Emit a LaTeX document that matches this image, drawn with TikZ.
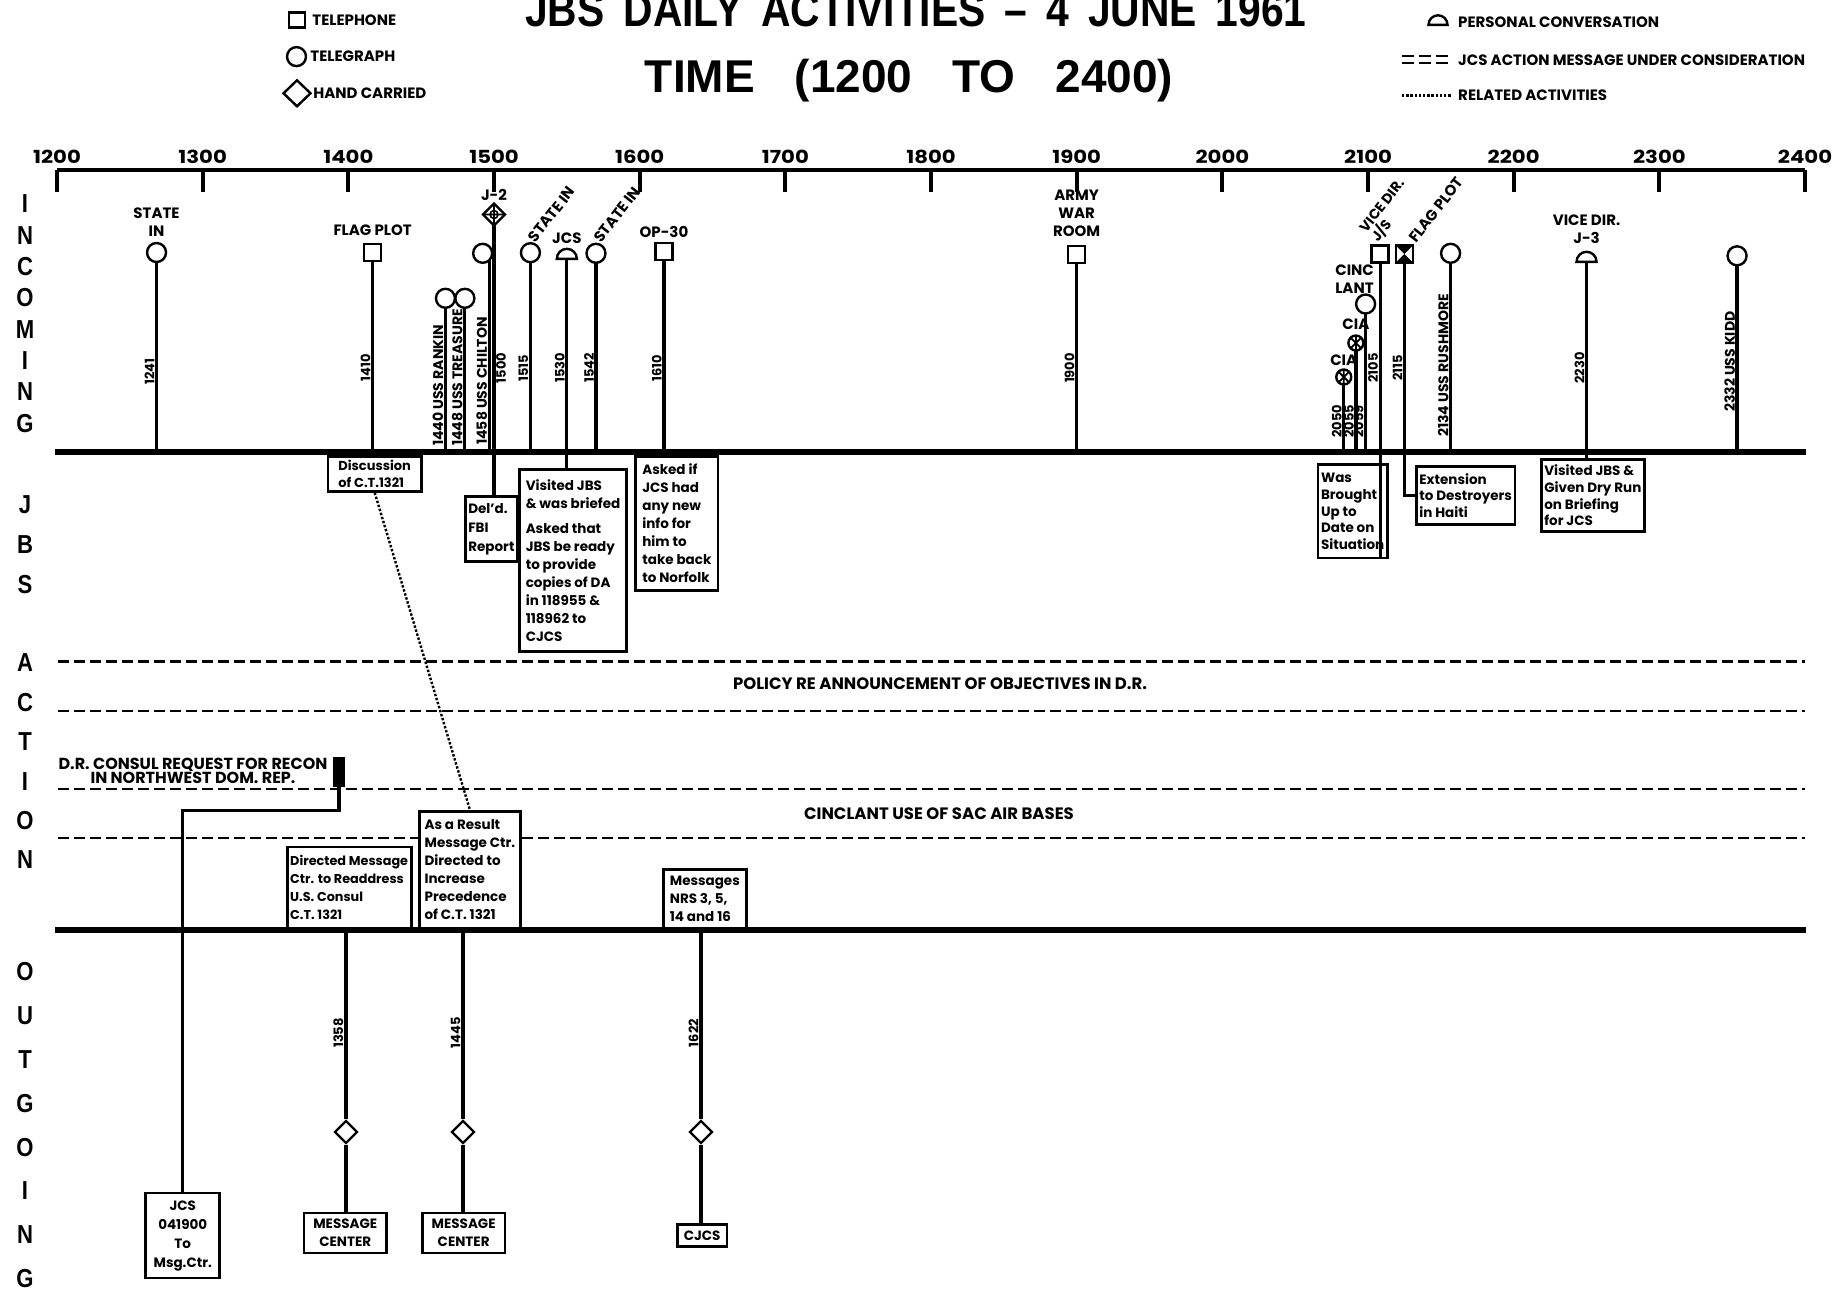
\documentclass[tikz,border=0pt]{standalone}
\usepackage{fontspec}
\setmainfont{Poppins}
\newfontfamily\titleFont[FakeStretch=0.85]{Liberation Sans}
\newfontfamily\wideFont[FakeStretch=1.18]{Poppins}
\usetikzlibrary{positioning, shapes.geometric}
\tikzstyle{chart} = [x = 1pt, y = -1pt]
\tikzstyle{axisLine} = [line width = 4pt]
\tikzstyle{baseLine} = [line width = 6.5pt]
\tikzstyle{eventLine} = [line width = 3.2pt]
\tikzstyle{actionDash} = [line width = 2.8pt, dash pattern = on 11pt off 5pt]
\tikzstyle{relatedLine} = [line width = 2.4pt, dash pattern = on 2.4pt off 1.8pt]
\tikzstyle{symbolStyle} = [draw, line width = 2.4pt, fill = white, inner sep = 0pt]
\tikzstyle{telegraph} = [symbolStyle, circle, minimum size = 19pt]
\tikzstyle{telephone} = [symbolStyle, rectangle, minimum size = 17pt]
\tikzstyle{conversation} = [symbolStyle, semicircle, minimum width = 20pt, minimum height = 10pt, anchor = chord center]
\tikzstyle{handCarried} = [symbolStyle, diamond, minimum width = 23pt, minimum height = 23pt]
\tikzstyle{courier} = [handCarried, path picture = {
  \draw [black, line width = 1.6pt] (path picture bounding box.center) circle (4pt)
    (path picture bounding box.north) -- (path picture bounding box.south)
    (path picture bounding box.west) -- (path picture bounding box.east);}]
\tikzstyle{agency} = [telegraph, minimum size = 15pt, path picture = {
  \draw [black, line width = 1.8pt] (path picture bounding box.north west) -- (path picture bounding box.south east)
    (path picture bounding box.north east) -- (path picture bounding box.south west)
    (path picture bounding box.north) -- (path picture bounding box.south);}]
\tikzstyle{flagPhone} = [telephone, path picture = {
  \fill [black] (path picture bounding box.north west) -- (path picture bounding box.center) -- (path picture bounding box.north east) -- cycle;
  \fill [black] (path picture bounding box.south west) -- (path picture bounding box.center) -- (path picture bounding box.south east) -- cycle;}]
\tikzstyle{titleText} = [inner sep = 0pt, anchor = base, font = \titleFont\fontsize{48}{48}\selectfont\bfseries]
\tikzstyle{sideLetter} = [inner sep = 0pt, font = \titleFont\fontsize{26}{26}\selectfont\bfseries]
\tikzstyle{axisText} = [inner sep = 0pt, font = \wideFont\fontsize{18}{18}\selectfont\bfseries]
\tikzstyle{labelText} = [inner sep = 0pt, align = center, font = \fontsize{15}{17.7}\selectfont\bfseries]
\tikzstyle{tiltText} = [labelText, rotate = 52, anchor = south west, align = left]
\tikzstyle{timeText} = [inner sep = 0pt, rotate = 90, font = \fontsize{13}{15}\selectfont\bfseries]
\tikzstyle{shipText} = [timeText, anchor = south west, font = \fontsize{14}{15}\selectfont\bfseries]
\tikzstyle{legendText} = [inner sep = 0pt, anchor = west, font = \fontsize{15}{15}\selectfont\bfseries]
\tikzstyle{bandText} = [inner sep = 0pt, align = center, font = \fontsize{16.5}{14}\selectfont\bfseries]
\tikzstyle{noteBox} = [draw, line width = 2.7pt, fill = white, anchor = north west, align = left, inner xsep = 3pt, inner ysep = 1pt, font = \fontsize{13.5}{18}\selectfont\bfseries]
\tikzstyle{tightNote} = [font = \fontsize{13.5}{16.7}\selectfont\bfseries]
\pgfmathdeclarefunction{timeX}{1}{\pgfmathparse{57 + (floor(#1/100) - 12 + mod(#1,100)/60) * 145.67}}
\newcommand{\incoming}[4]{
  \coordinate (#1 top) at ({timeX(#2)}, #4);
  \coordinate (#1 foot) at ({timeX(#2)}, 452);
  \draw [eventLine] (#1 top) -- (#1 foot);
  \node [#3] (#1) at (#1 top) {};
}
\newcommand{\timeTag}[4][south]{\node [timeText, anchor = #1] (tag#2) at ({timeX(#2) - 2}, #4) {#3};}
\newcommand{\shipTag}[3]{\node [shipText] (tag#1) at ({timeX(#1) - 2}, #3) {#2};}
\newcommand{\note}[7][]{\node [noteBox, minimum width = #5pt, minimum height = #6pt, #1] (#2) at (#3, #4) {#7};}
\newcommand{\outgoing}[5]{
  \node [handCarried] (#1) at (#2, 1132) {};
  \draw [eventLine] (#1 |- #4.south) -- (#1) -- (#1 |- #5.north);
  \node [timeText, anchor = south] (tag#3) at (#2 - 2.5, 1033) {#3};
}
\newcommand{\sideWord}[4]{
  \foreach \letter [count = \i] in {#2} {
    \node [sideLetter] (#1\i) at (25, {#3 + (\i - 1) * #4}) {\letter};
  }
}
\begin{document}
\begin{tikzpicture}[chart]
  \useasboundingbox (0, 0) rectangle (1841, 1294);

  \node [titleText] (title) at (916, 26) {\spaceskip=19pt JBS DAILY ACTIVITIES – 4 JUNE 1961};
  \node [titleText, font = \titleFont\fontsize{46}{46}\selectfont\bfseries\addfontfeature{FakeStretch=1.0}] (timeSpan) at (909, 92) {\spaceskip=40pt TIME (1200 TO 2400)};

  \node [telephone, minimum width = 16pt, minimum height = 15pt] (legPhone) at (297, 20) {};
  \node [legendText, right = 6pt of legPhone] (legPhoneText) {TELEPHONE};
  \node [telegraph] (legWire) at (296.5, 56.6) {};
  \node [legendText, right = 3pt of legWire] (legWireText) {TELEGRAPH};
  \node [handCarried, minimum width = 28pt, minimum height = 27pt] (legHand) at (297, 93.3) {};
  \node [legendText, right = 1pt of legHand] (legHandText) {HAND CARRIED};
  \node [conversation, minimum width = 19pt, minimum height = 9.5pt] (legTalk) at (1438, 26) {};
  \node [legendText] (legTalkText) at (1458, 22.5) {PERSONAL CONVERSATION};
  \draw [line width = 2pt, dash pattern = on 12pt off 5pt] (1402, 55.5) -- (1452, 55.5) (1402, 62.5) -- (1452, 62.5);
  \node [legendText] (legDashText) at (1458, 60) {JCS ACTION MESSAGE UNDER CONSIDERATION};
  \draw [relatedLine] (1402, 95.6) -- (1452, 95.6);
  \node [legendText] (legDotText) at (1458, 95.6) {RELATED ACTIVITIES};

  \draw [axisLine] (57, 170) -- (1805, 170);
  \foreach \hour in {0,...,12} {
    \pgfmathsetmacro{\tickX}{57 + \hour * 145.67}
    \pgfmathtruncatemacro{\stamp}{1200 + 100 * \hour}
    \draw [axisLine] (\tickX, 170) -- (\tickX, 192);
    \node [axisText] (hour\stamp) at (\tickX, 156.7) {\stamp};
  }

  \sideWord{incoming}{I,N,C,O,M,I,N,G}{204}{31.3}
  \sideWord{jbs}{J,B,S}{505}{40}
  \sideWord{action}{A,C,T,I,O,N}{663}{39.4}
  \sideWord{outgoing}{O,U,T,G,O,I,N,G}{972}{43.8}

  \draw [baseLine] (55, 452) -- (1806, 452);
  \draw [baseLine] (55, 930) -- (1806, 930);
  \foreach \y in {661.5, 711, 789, 838} {
    \draw [actionDash] (58, \y) -- (1805, \y);
  }

  \incoming{stateOne}{1241}{telegraph}{252.5}
  \incoming{flagOne}{1410}{telephone}{252.5}
  \incoming{rankin}{1440}{telegraph}{298.3}
  \incoming{treasure}{1448}{telegraph}{298.3}
  \incoming{chilton}{1458}{telegraph, xshift = -6.5pt}{253.3}
  \incoming{jTwo}{1500}{courier}{214.5}
  \incoming{stateTwo}{1515}{telegraph}{252.7}
  \incoming{jcsTalk}{1530}{conversation}{260}
  \incoming{stateThree}{1542}{telegraph}{253.3}
  \incoming{opThirty}{1610}{telephone}{251.7}
  \incoming{warRoom}{1900}{telephone}{254.2}
  \incoming{ciaOne}{2050}{agency}{377}
  \incoming{ciaTwo}{2055}{agency}{343}
  \incoming{cinclant}{2059}{telegraph}{304}
  \incoming{viceJS}{2105}{telephone}{254}
  \incoming{flagTwo}{2115}{flagPhone}{254}
  \incoming{rushmore}{2134}{telegraph}{253.3}
  \incoming{viceJThree}{2230}{conversation}{263}
  \incoming{kidd}{2332}{telegraph}{255.8}

  \node [labelText, above = 5.5pt of stateOne] (stateOneText) {STATE\\IN};
  \node [labelText, above = 7.5pt of flagOne] (flagOneText) {FLAG PLOT};
  \node [labelText, above = 1pt of jTwo] (jTwoText) {J-2};
  \node [tiltText] (stateTwoText) at (stateTwo.60) {STATE IN};
  \node [labelText, above = 4pt of jcsTalk] (jcsTalkText) {JCS};
  \node [tiltText] (stateThreeText) at (stateThree.60) {STATE IN};
  \node [labelText, above = 4pt of opThirty] (opThirtyText) {OP-30};
  \node [labelText, above = 8pt of warRoom] (warRoomText) {ARMY\\WAR\\ROOM};
  \node [labelText, above = 3pt of ciaOne] (ciaOneText) {CIA};
  \node [labelText, above = 4.5pt of ciaTwo] (ciaTwoText) {CIA};
  \node [labelText, align = left, above = 0pt of cinclant, xshift = -11pt] (cinclantText) {CINC\\LANT};
  \node [tiltText, font = \fontsize{14}{15}\selectfont\bfseries] (viceJSText) at (viceJS.north) {VICE DIR.\\J/S};
  \node [tiltText] (flagTwoText) at ([xshift = 2pt]flagTwo.north east) {FLAG PLOT};
  \node [labelText, above = 7pt of viceJThree] (viceJThreeText) {VICE DIR.\\J-3};

  \timeTag{1241}{1241}{371.7}
  \timeTag{1410}{1410}{368}
  \shipTag{1440}{1440 USS RANKIN}{446}
  \shipTag{1448}{1448 USS TREASURE}{446}
  \shipTag{1458}{1458 USS CHILTON}{445}
  \node [timeText, anchor = north] (tag1500) at ({timeX(1500) + 2}, 368) {1500};
  \timeTag{1515}{1515}{368}
  \timeTag{1530}{1530}{368}
  \timeTag{1542}{1542}{368}
  \timeTag{1610}{1610}{368}
  \timeTag{1900}{1900}{368}
  \timeTag[south west]{2050}{2050}{438}
  \timeTag[south west]{2055}{2055}{438}
  \timeTag[south west]{2059}{2059}{438}
  \timeTag{2105}{2105}{368}
  \timeTag{2115}{2115}{368}
  \shipTag{2134}{2134 USS RUSHMORE}{437}
  \timeTag{2230}{2230}{368}
  \shipTag{2332}{2332 USS KIDD}{412}

  \note[font = \fontsize{13}{16.7}\selectfont\bfseries]{discussion}{326.7}{455}{93.3}{35}{Discussion\\of C.T.1321}
  \note[font = \fontsize{13.5}{19}\selectfont\bfseries]{fbiReport}{464}{495}{49.3}{65}{Del'd.\\FBI\\Report}
  \note{visitedJBS}{518.3}{468.3}{106.7}{181.7}{Visited JBS\\\& was briefed\\[7pt]Asked that\\JBS be ready\\to provide\\copies of DA\\in 118955 \&\\118962 to\\CJCS}
  \note{askedIf}{634.3}{455}{82.4}{134.3}{Asked if\\JCS had\\any new\\info for\\him to\\take back\\to Norfolk}
  \note[tightNote]{wasBrought}{1316.7}{463.3}{65}{93.4}{Was\\Brought\\Up to\\Date on\\Situation}
  \note[tightNote]{haiti}{1415}{465}{93.3}{58.3}{Extension\\to Destroyers\\in Haiti}
  \note[tightNote]{dryRun}{1540}{458.3}{101.7}{71.7}{Visited JBS \&\\Given Dry Run\\on Briefing\\for JCS}
  \note[font = \fontsize{12.8}{18}\selectfont\bfseries]{readdress}{285.8}{845.7}{124}{81}{Directed Message\\Ctr. to Readdress\\U.S. Consul\\C.T. 1321}
  \note{asResult}{417.8}{810}{101.6}{116.7}{As a Result\\Message Ctr.\\Directed to\\Increase\\Precedence\\of C.T. 1321}
  \note{messagesNrs}{662}{868.3}{83}{59}{Messages\\NRS 3, 5,\\14 and 16}
  \note[align = center, font = \fontsize{13.5}{19}\selectfont\bfseries]{jcsOut}{144.4}{1191.7}{74}{85}{JCS\\041900\\To\\Msg.Ctr.}
  \note[align = center]{msgCenterA}{302.6}{1211.7}{82.6}{40}{MESSAGE\\CENTER}
  \note[align = center]{msgCenterB}{421}{1211.7}{82.6}{40}{MESSAGE\\CENTER}
  \note[align = center]{cjcsOut}{676}{1223.3}{49.5}{21.7}{CJCS}

  \draw [eventLine] (jTwo foot) -- (jTwo foot |- fbiReport.north);
  \draw [eventLine] (jcsTalk foot) -- (jcsTalk foot |- visitedJBS.north);
  \draw [eventLine] (opThirty foot) -- (opThirty foot |- askedIf.north);
  \draw [eventLine] (viceJS foot) -- (viceJS foot |- wasBrought.south);
  \draw [eventLine] (flagTwo foot) |- (haiti.west);
  \draw [eventLine] (viceJThree foot) -- (viceJThree foot |- dryRun.north);
  \draw [relatedLine] (discussion.south) -- (asResult.north);

  \node [bandText] (policy) at (940, 684) {POLICY RE ANNOUNCEMENT OF OBJECTIVES IN D.R.};
  \node [bandText] (sacBases) at (939, 814) {CINCLANT USE OF SAC AIR BASES};
  \node [bandText, font = \fontsize{16}{14}\selectfont\bfseries] (drConsul) at (193, 771) {D.R. CONSUL REQUEST FOR RECON\\IN NORTHWEST DOM. REP.};
  \node [fill, inner sep = 0pt, minimum width = 12pt, minimum height = 30pt] (drEnd) at (339, 772) {};
  \draw [eventLine] (drEnd.south) -- ++(0, 23) -| (jcsOut.north);

  \outgoing{handA}{346}{1358}{readdress}{msgCenterA}
  \outgoing{handB}{463}{1445}{asResult}{msgCenterB}
  \outgoing{handC}{701}{1622}{messagesNrs}{cjcsOut}
\end{tikzpicture}
\end{document}
